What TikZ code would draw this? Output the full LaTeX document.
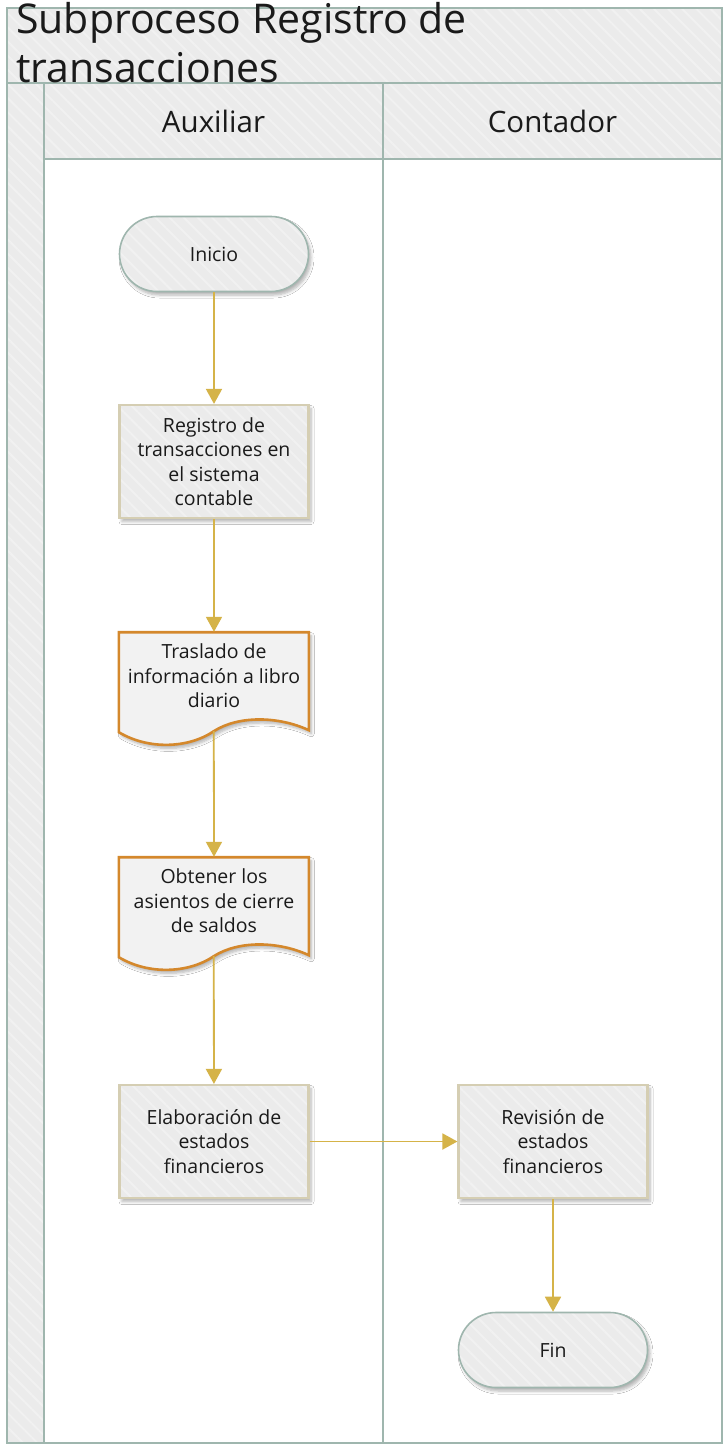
\documentclass[tikz,border=0pt]{standalone}
\usepackage{fontspec}
\setmainfont{Open Sans}
\usetikzlibrary{arrows.meta,patterns.meta,shadows.blur,calc}

\definecolor{lanefill}{HTML}{EBEBEB}
\definecolor{laneline}{HTML}{9FB6AE}
\definecolor{procline}{HTML}{D5CEB3}
\definecolor{docline}{HTML}{D4882C}
\definecolor{docfill}{HTML}{F2F2F2}
\definecolor{flowline}{HTML}{D5B348}
\definecolor{hatchline}{HTML}{F1F1F1}
\definecolor{ink}{HTML}{1A1A1A}

\tikzset{
  % light fill with faint diagonal stripes, laid under the outline
  hatched/.style={preaction={fill=lanefill},
    preaction={pattern={Lines[angle=-45,distance=10pt,line width=2pt]},
               pattern color=hatchline}},
  soft shadow/.style={blur shadow={shadow xshift=2.5pt, shadow yshift=-3.5pt,
    shadow blur steps=6, shadow blur radius=3pt, shadow opacity=30}},
  poolline/.style={draw=laneline, line width=2pt},
  lanehead/.style={hatched, poolline, minimum width=339pt, minimum height=76pt,
    inner sep=0pt, text=ink, font=\fontsize{29.5}{34}\selectfont},
  titletext/.style={anchor=base west, inner sep=0pt, text=ink,
    font=\fontsize{41}{48}\selectfont},
  nodetext/.style={text=ink, align=center,
    font=\fontsize{19.5}{24.5}\selectfont},
  term/.style={soft shadow, hatched, nodetext, draw=laneline, line width=1.6pt,
    rounded corners=37.5pt, minimum width=189pt, minimum height=75pt, inner sep=0pt},
  proc/.style={soft shadow, hatched, nodetext, draw=procline, line width=2.2pt,
    minimum width=189pt, minimum height=113pt, inner sep=0pt},
  docarea/.style={nodetext, minimum width=190pt, minimum height=88pt, inner sep=0pt},
  docshape/.style={soft shadow, fill=docfill, draw=docline, line width=2.6pt},
  flow/.style={draw=flowline, line width=1.8pt, -{Triangle[length=15pt,width=16pt]}}
}

\begin{document}
\begin{tikzpicture}[x=1pt,y=-1pt]
\useasboundingbox (0,0) rectangle (725,1448);

% pool frame, title band and the left strip
\fill[white] (7,8) rectangle (722,1443);
\path[hatched] (7,8) rectangle (722,83);
\path[hatched] (7,83) rectangle (44,1443);
\draw[poolline] (7,8) rectangle (722,1443);
\draw[poolline] (7,83) -- (722,83);
\draw[poolline] (44,83) -- (44,1443);
\draw[poolline] (383,159) -- (383,1443);

% lane headers
\node[lanehead] (auxh) at (213.5,121) {Auxiliar};
\node[lanehead] (conth) at (552.5,121) {Contador};

% pool title
\node[titletext] (title1) at (16,33) {Subproceso Registro de};
\node[titletext] (title2) at (16,82) {transacciones};

% lane Auxiliar
\node[term] (ini) at (214,254) {Inicio};
\node[proc] (reg) at (214,461.5) {Registro de\\transacciones en\\el sistema\\contable};

\node[docarea] (tras) at (214,676) {};
\begin{scope}[shift={(tras.south west)}]
  \path[docshape] (0,-88) -- (190,-88) -- (190,10)
    .. controls (160,-4) and (120,-5) .. (95,11) coordinate (trasout)
    .. controls (70,28) and (30,30) .. (0,12) -- cycle;
\end{scope}
\node[docarea] at (tras) {Traslado de\\información a libro\\diario};

\node[docarea] (obt) at (214,901) {};
\begin{scope}[shift={(obt.south west)}]
  \path[docshape] (0,-88) -- (190,-88) -- (190,10)
    .. controls (160,-4) and (120,-5) .. (95,11) coordinate (obtout)
    .. controls (70,28) and (30,30) .. (0,12) -- cycle;
\end{scope}
\node[docarea] at (obt) {Obtener los\\asientos de cierre\\de saldos};

\node[proc] (ela) at (214,1141.5) {Elaboración de\\estados\\financieros};

% lane Contador
\node[proc] (rev) at (553,1141.5) {Revisión de\\estados\\financieros};
\node[term] (fin) at (553,1350) {Fin};

% sequence flow
\draw[flow] (ini) -- (reg);
\draw[flow] (reg) -- (tras.north);
\draw[flow] (trasout) -- (obt.north);
\draw[flow] (obtout) -- (ela);
\draw[flow] (ela) -- (rev);
\draw[flow] (rev) -- (fin);
\end{tikzpicture}
\end{document}
